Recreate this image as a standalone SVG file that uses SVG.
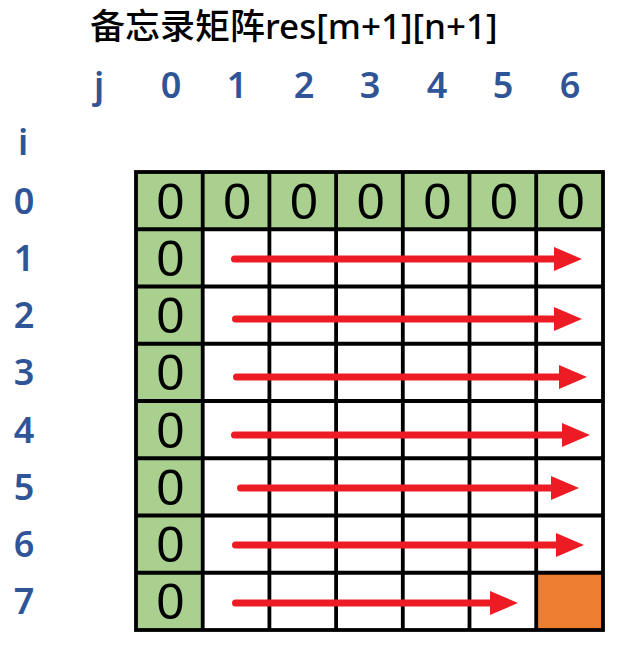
<svg xmlns="http://www.w3.org/2000/svg" width="636" height="652" viewBox="0 0 636 652">
  <style>
    .title { font-family: "Noto Sans", "Noto Sans CJK SC", sans-serif; font-size: 35px; font-weight: 500; fill: #000; }
    .lbl { font-family: "Noto Sans", "Liberation Sans", sans-serif; font-size: 36px; font-weight: 600; fill: #2F5597; text-anchor: middle; }
    .zero { font-family: "Liberation Sans", Arial, sans-serif; font-size: 50px; fill: #000; text-anchor: middle; }
    .green { fill: #A9D08E; }
    .white { fill: #FFFFFF; }
    .orange { fill: #ED7D31; }
    .grid { stroke: #000; stroke-width: 3.8; fill: none; }
    .arrow { stroke: #ED1C24; stroke-width: 7; stroke-linecap: round; fill: none; marker-end: url(#ah); }
  </style>
  <defs>
    <marker id="ah" markerUnits="userSpaceOnUse" markerWidth="28" markerHeight="24" refX="2" refY="12" orient="auto" viewBox="0 0 28 24">
      <path d="M0,0 L28,12 L0,24 Z" fill="#ED1C24"/>
    </marker>
  </defs>
  <rect width="636" height="652" fill="#FFFFFF"/>

  <g id="title">
    <text class="title" x="90" y="39">备忘录矩阵res[m+1][n+1]</text>
  </g>

  <g id="col-labels">
    <text class="lbl" x="99" y="98">j</text>
    <text class="lbl" x="171" y="98">0</text>
    <text class="lbl" x="237" y="98">1</text>
    <text class="lbl" x="304" y="98">2</text>
    <text class="lbl" x="370" y="98">3</text>
    <text class="lbl" x="437" y="98">4</text>
    <text class="lbl" x="503" y="98">5</text>
    <text class="lbl" x="570" y="98">6</text>
  </g>

  <g id="row-labels">
    <text class="lbl" x="23" y="155">i</text>
    <text class="lbl" x="24" y="213.6">0</text>
    <text class="lbl" x="24" y="270.9">1</text>
    <text class="lbl" x="24" y="328.1">2</text>
    <text class="lbl" x="24" y="385.4">3</text>
    <text class="lbl" x="24" y="442.6">4</text>
    <text class="lbl" x="24" y="499.9">5</text>
    <text class="lbl" x="24" y="557.1">6</text>
    <text class="lbl" x="24" y="614.4">7</text>
  </g>

  <g id="matrix">
    <rect class="white" x="136" y="172" width="467" height="458"/>
    <rect id="row0-fill" class="green" x="136" y="172" width="467" height="57.25"/>
    <rect id="col0-fill" class="green" x="136" y="172" width="66.7" height="458"/>
    <rect id="cell-7-6" class="orange" x="536.2" y="572.75" width="66.7" height="57.25"/>
    <g id="grid-lines" class="grid">
      <path d="M202.7,172V630 M269.4,172V630 M336.1,172V630 M402.8,172V630 M469.5,172V630 M536.2,172V630"/>
      <path d="M136,229.25H603 M136,286.5H603 M136,343.75H603 M136,401H603 M136,458.25H603 M136,515.5H603 M136,572.75H603"/>
      <rect x="136" y="172" width="467" height="458"/>
    </g>
  </g>

  <g id="row0-values">
    <text class="zero" x="170.5" y="218.6">0</text>
    <text class="zero" x="237.2" y="218.6">0</text>
    <text class="zero" x="303.9" y="218.6">0</text>
    <text class="zero" x="370.6" y="218.6">0</text>
    <text class="zero" x="437.3" y="218.6">0</text>
    <text class="zero" x="504" y="218.6">0</text>
    <text class="zero" x="570.7" y="218.6">0</text>
  </g>
  <g id="col0-values">
    <text class="zero" x="170.5" y="275.9">0</text>
    <text class="zero" x="170.5" y="333.1">0</text>
    <text class="zero" x="170.5" y="390.4">0</text>
    <text class="zero" x="170.5" y="447.6">0</text>
    <text class="zero" x="170.5" y="504.9">0</text>
    <text class="zero" x="170.5" y="562.1">0</text>
    <text class="zero" x="170.5" y="619.4">0</text>
  </g>

  <g id="connectors">
    <path class="arrow" d="M234.5,259 H556"/>
    <path class="arrow" d="M235.5,319 H556"/>
    <path class="arrow" d="M236.5,377 H561"/>
    <path class="arrow" d="M234.5,435 H564"/>
    <path class="arrow" d="M240.5,488 H553"/>
    <path class="arrow" d="M235.5,545 H558"/>
    <path class="arrow" d="M235.5,603 H492"/>
  </g>
</svg>
